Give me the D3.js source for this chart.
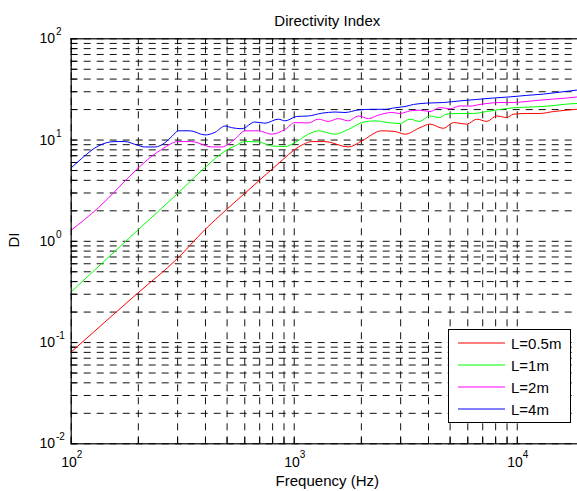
<!DOCTYPE html>
<html>
<head>
<meta charset="utf-8">
<script src="https://cdn.jsdelivr.net/npm/d3@7"></script>
<style>
  body { margin: 0; background: #fff; }
  svg { display: block; font-family: "Liberation Sans", Arial, sans-serif; }
  .grid line { stroke: #111; stroke-dasharray: 7,6; }
  .grid path, .ticks path { display: none; }
  .ticks line { stroke: #000; }
</style>
</head>
<body>
<script>
// directivity index of line sources, four lengths
var freq05 = [100, 200, 300, 400, 500, 637, 897, 1000, 1105, 1205, 1380, 1758, 2018, 2483, 2844, 3155, 3681, 4080, 4688, 5198, 5970, 6620, 7335, 8128, 9010, 9660, 11090, 12700, 14590, 16750, 18620, 20000];
var di05   = [0.079, 0.305, 0.664, 1.29, 2.04, 3.27, 6.38, 7.83, 8.97, 9.55, 9.55, 8.45, 9.68, 12.2, 12.0, 11.3, 13.1, 14.2, 12.9, 14.7, 14.2, 15.9, 15.1, 17.1, 16.5, 17.8, 18.1, 18.1, 18.9, 19.5, 19.9, 20.2];

var freq1 = [100, 201, 304, 400, 492, 545, 605, 693, 796, 914, 1013, 1164, 1289, 1530, 1758, 2018, 2316, 2655, 3000, 3310, 3670, 4065, 4505, 4830, 5545, 6350, 7300, 8410, 9660, 11860, 14100, 16750, 20000];
var di1   = [0.31, 1.29, 2.98, 5.28, 7.71, 8.65, 9.55, 9.5, 8.65, 8.53, 9.33, 11.3, 12.2, 11.3, 12.6, 14.7, 15.3, 14.7, 14.4, 15.9, 15.1, 17.1, 16.5, 17.8, 18.1, 18.1, 18.9, 19.8, 20.6, 21.0, 21.5, 22.4, 22.9];

var freq2 = [100, 133, 198, 230, 256, 304, 349, 429, 475, 545, 605, 693, 796, 914, 1013, 1164, 1289, 1429, 1585, 1758, 1950, 2163, 2395, 2748, 3000, 3327, 3681, 4083, 4530, 5020, 5570, 6170, 6840, 7590, 8410, 9660, 11090, 12700, 14590, 16750, 20000];
var di2   = [1.26, 2.12, 5.08, 6.8, 8.0, 9.55, 9.55, 8.45, 8.45, 10.1, 12.2, 12.2, 11.3, 12.6, 14.7, 14.6, 15.9, 15.1, 16.1, 15.3, 17.1, 16.1, 17.4, 18.5, 18.1, 19.2, 19.5, 18.9, 20.7, 20.1, 21.5, 21.4, 22.2, 22.9, 23.2, 23.2, 23.8, 24.5, 25.1, 25.7, 26.8];

var freq4 = [100, 112, 133, 158, 175, 198, 215, 239, 265, 285, 304, 343, 400, 444, 492, 527, 585, 670, 743, 853, 914, 1031, 1164, 1336, 1531, 1698, 1950, 2239, 2566, 2844, 3155, 3444, 3945, 4688, 5570, 6622, 7852, 9333, 11090, 13150, 15630, 18620, 20000];
var di4   = [5.2, 6.5, 8.65, 9.55, 9.55, 8.83, 8.45, 8.45, 9.33, 10.8, 12.2, 12.2, 11.1, 11.8, 13.6, 13.1, 12.8, 14.9, 14.5, 15.9, 15.3, 16.9, 17.1, 18.2, 18.7, 18.5, 19.6, 19.9, 19.9, 20.6, 21.2, 22.2, 22.9, 23.2, 24.1, 24.9, 25.7, 26.4, 27.3, 28.1, 29.4, 30.8, 31.3];

var seriesNames  = ["L=0.5m", "L=1m", "L=2m", "L=4m"];
var seriesColors = ["#ff0000", "#00ff00", "#ff00ff", "#0000ff"];

var xMajor = [100, 1000, 10000];
var xExps  = ["2", "3", "4"];
var yMajor = [0.01, 0.1, 1, 10, 100];
var yExps  = ["-2", "-1", "0", "1", "2"];

var w = 577, h = 491;
var padL = 70.7, padT = 38.3, padR = 583.9, padB = 443.3;

var x = d3.scaleLog().domain([100, 20000]).range([padL, padR]);
var y = d3.scaleLog().domain([0.01, 100]).range([padB, padT]);

// every 1..9 step in each decade, for grid and ticks
var xAll = [];
[100, 1000, 10000].forEach(function(dec){
  for (var k = 1; k <= 9; k++) { if (k * dec <= 20000) xAll.push(k * dec); }
});
var yAll = [];
[0.01, 0.1, 1, 10].forEach(function(dec){
  for (var k = 1; k <= 9; k++) yAll.push(+(k * dec).toPrecision(3));
});
yAll.push(100);

var svg = d3.select("body").append("svg")
  .attr("width", w).attr("height", h);

svg.append("defs").append("clipPath").attr("id", "plotclip")
  .append("rect").attr("x", padL).attr("y", padT)
  .attr("width", padR - padL).attr("height", padB - padT);

// dashed grid
svg.append("g").attr("class", "grid")
  .attr("transform", "translate(0," + padB + ")")
  .call(d3.axisBottom(x).tickValues(xAll).tickSize(-(padB - padT)).tickFormat(""));
svg.append("g").attr("class", "grid")
  .attr("transform", "translate(" + padL + ",0)")
  .call(d3.axisLeft(y).tickValues(yAll).tickSize(-(padR - padL)).tickFormat(""));

// inward ticks on all four sides
svg.append("g").attr("class", "ticks")
  .attr("transform", "translate(0," + padB + ")")
  .call(d3.axisBottom(x).tickValues(xAll).tickSize(-6).tickFormat(""));
svg.append("g").attr("class", "ticks")
  .attr("transform", "translate(0," + padT + ")")
  .call(d3.axisTop(x).tickValues(xAll).tickSize(-6).tickFormat(""));
svg.append("g").attr("class", "ticks")
  .attr("transform", "translate(" + padL + ",0)")
  .call(d3.axisLeft(y).tickValues(yAll).tickSize(-6).tickFormat(""));
svg.append("g").attr("class", "ticks")
  .attr("transform", "translate(" + padR + ",0)")
  .call(d3.axisRight(y).tickValues(yAll).tickSize(-6).tickFormat(""));

// curves
var line = d3.line()
  .x(function(d){ return x(d[0]); })
  .y(function(d){ return y(d[1]); })
  .curve(d3.curveMonotoneX);

var allSeries = [d3.zip(freq05, di05), d3.zip(freq1, di1), d3.zip(freq2, di2), d3.zip(freq4, di4)];

svg.append("g").attr("clip-path", "url(#plotclip)")
  .selectAll("path")
  .data(allSeries)
  .enter()
  .append("path")
  .attr("d", line)
  .attr("fill", "none")
  .attr("stroke", function(d, i){ return seriesColors[i]; })
  .attr("stroke-width", 1);

// axes box
svg.append("rect")
  .attr("x", padL + 0.5).attr("y", padT + 0.5)
  .attr("width", padR - padL).attr("height", padB - padT)
  .attr("fill", "none").attr("stroke", "#000").attr("stroke-width", 1.2);

// tick labels, 10 with superscript exponent
var xl = svg.append("g").selectAll("text")
  .data(xMajor).enter().append("text")
  .attr("x", function(d){ return x(d) + 1; })
  .attr("y", 467)
  .attr("text-anchor", "middle")
  .style("font-size", "14px");
xl.append("tspan").text("10");
xl.append("tspan").attr("dy", -9).style("font-size", "10px")
  .text(function(d, i){ return xExps[i]; });

svg.append("g").selectAll("text")
  .data(yMajor).enter().append("text")
  .attr("x", 55)
  .attr("y", function(d){ return y(d) + 5; })
  .attr("text-anchor", "end")
  .style("font-size", "14px")
  .text("10");
svg.append("g").selectAll("text")
  .data(yMajor).enter().append("text")
  .attr("x", 56)
  .attr("y", function(d){ return y(d) - 3; })
  .style("font-size", "10px")
  .text(function(d, i){ return yExps[i]; });

// title and axis labels
svg.append("text")
  .attr("x", (padL + padR) / 2).attr("y", 26)
  .attr("text-anchor", "middle")
  .style("font-size", "15px")
  .text("Directivity Index");
svg.append("text")
  .attr("x", (padL + padR) / 2).attr("y", 486)
  .attr("text-anchor", "middle")
  .style("font-size", "15px")
  .text("Frequency (Hz)");
svg.append("text")
  .attr("transform", "translate(19,240) rotate(-90)")
  .attr("text-anchor", "middle")
  .style("font-size", "15px")
  .text("DI");

// legend
var lg = svg.append("g");
lg.append("rect")
  .attr("x", 448.5).attr("y", 329.5).attr("width", 122).attr("height", 93)
  .attr("fill", "#fff").attr("stroke", "#000");
var items = lg.selectAll("g.item")
  .data(seriesNames).enter().append("g").attr("class", "item")
  .attr("transform", function(d, i){ return "translate(0," + (343 + i * 22) + ")"; });
items.append("line")
  .attr("x1", 458).attr("x2", 505)
  .attr("stroke", function(d, i){ return seriesColors[i]; });
items.append("text")
  .attr("x", 511).attr("y", 5.5)
  .style("font-size", "15px")
  .text(function(d){ return d; });
</script>
</body>
</html>
